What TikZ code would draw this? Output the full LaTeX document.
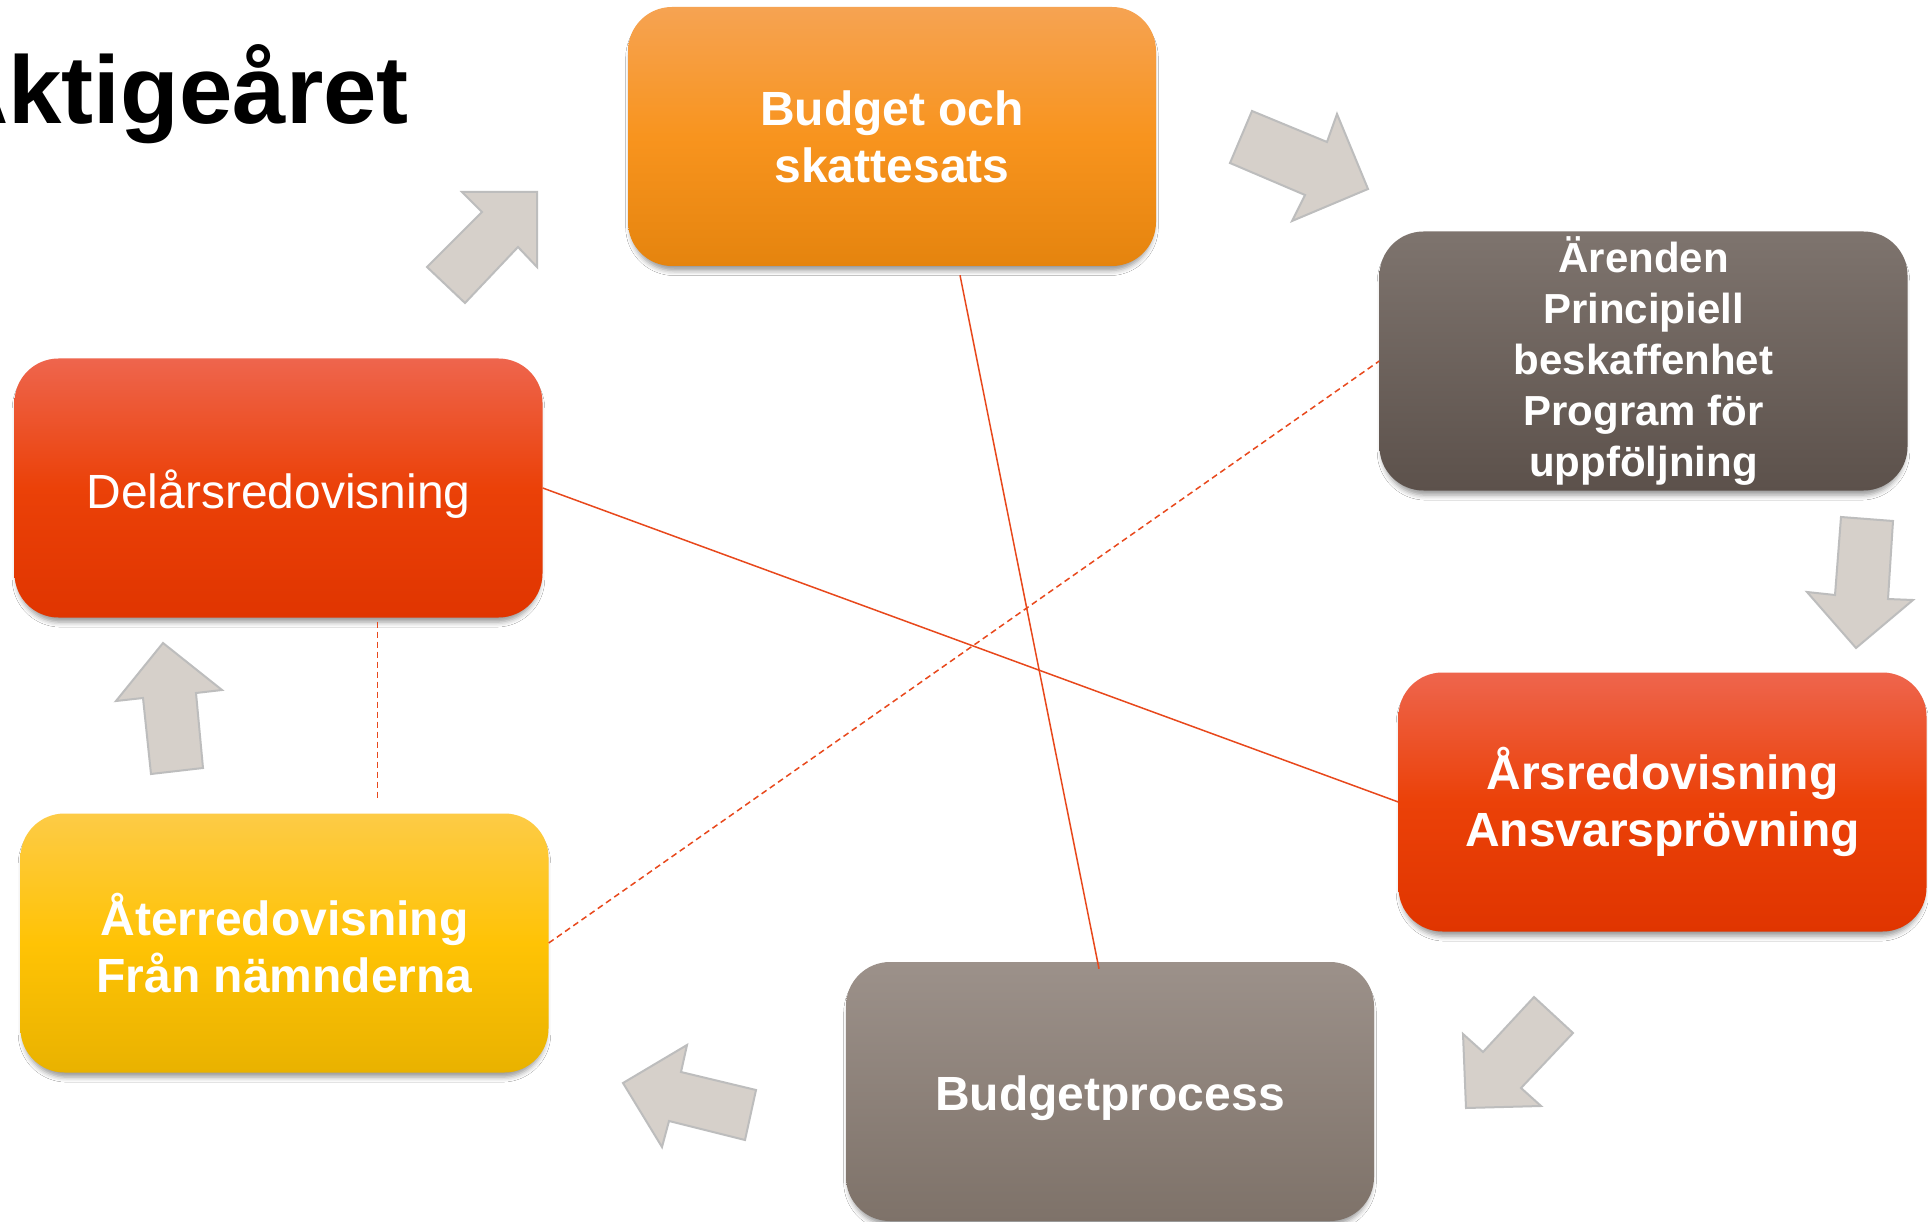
\documentclass[tikz,border=0pt]{standalone}
\usepackage{fontspec}
\setmainfont{Liberation Sans}
\usetikzlibrary{shadows.blur}
\definecolor{linec}{HTML}{E8481C}
\definecolor{arrfill}{HTML}{D6D0CA}
\definecolor{arrdraw}{HTML}{BDBDBD}
\tikzset{
  box/.style={rounded corners=44pt, minimum width=528pt, minimum height=259pt,
    inner sep=0pt, align=center, text=white,
    blur shadow={shadow xshift=0pt, shadow yshift=-6pt, shadow blur radius=5pt, shadow opacity=40, shadow scale=0.99}},
  orangebox/.style={box, top color=orA, bottom color=orC, middle color=orB},
  redbox/.style={box, top color=rdA, bottom color=rdC, middle color=rdB},
  yellowbox/.style={box, top color=ylA, bottom color=ylC, middle color=ylB},
  darkbox/.style={box, top color=dkA, bottom color=dkB},
  greybox/.style={box, top color=gyA, bottom color=gyB},
  bigtxt/.style={font=\fontsize{48}{57}\selectfont\bfseries},
  conn/.style={draw=linec, line width=1.5pt},
  dconn/.style={conn, dash pattern=on 6pt off 4pt},
  blockarrow/.style={fill=arrfill, draw=arrdraw, line width=2pt, line join=miter}
}
\definecolor{orA}{HTML}{F6A352}
\definecolor{orB}{HTML}{F8941E}
\definecolor{orC}{HTML}{E5840E}
\definecolor{rdA}{HTML}{EE654D}
\definecolor{rdB}{HTML}{EB4108}
\definecolor{rdC}{HTML}{E03500}
\definecolor{ylA}{HTML}{FDCB46}
\definecolor{ylB}{HTML}{FFC305}
\definecolor{ylC}{HTML}{E9B200}
\definecolor{dkA}{HTML}{7E746E}
\definecolor{dkB}{HTML}{5C514B}
\definecolor{gyA}{HTML}{9C918A}
\definecolor{gyB}{HTML}{7E7269}
\begin{document}
\begin{tikzpicture}[x=1pt,y=-1pt]
\useasboundingbox[fill=white] (0,0) rectangle (1928,1222);

% title
\node[anchor=base east, inner sep=0pt, font=\fontsize{96}{110}\selectfont\bfseries] (title) at (409,124) {Aktigeåret};

% block arrows
\draw[blockarrow] (427,267) -- (482,212) -- (462,192) -- (537,192) -- (537,267) -- (518,247) -- (465,303) -- cycle;
\draw[blockarrow] (1230,163) -- (1252,111) -- (1327,142) -- (1337,114) -- (1368,189) -- (1292,221) -- (1305,195) -- cycle;
\draw[blockarrow] (1841,517) -- (1893,521) -- (1888,599) -- (1913,600) -- (1856,648) -- (1807,592) -- (1835,595) -- cycle;
\draw[blockarrow] (1534,997) -- (1573,1033) -- (1521,1088) -- (1541,1106) -- (1466,1108) -- (1463,1034) -- (1483,1052) -- cycle;
\draw[blockarrow] (756,1090) -- (745,1140) -- (669,1121) -- (662,1147) -- (623,1083) -- (687,1045) -- (681,1072) -- cycle;
\draw[blockarrow] (163,643) -- (222,690) -- (196,693) -- (203,768) -- (151,774) -- (143,698) -- (116,701) -- cycle;

% boxes
\node[orangebox, bigtxt] (bud) at (892,136.5) {Budget och\\skattesats};
\node[darkbox, font=\fontsize{42}{51}\selectfont\bfseries] (are) at (1643.5,361) {Ärenden\\Principiell\\beskaffenhet\\Program för\\uppföljning};
\node[redbox, font=\fontsize{48}{57}\selectfont, text depth=0pt, text height=40pt] (del) at (278.5,488) {Delårsredovisning};
\node[redbox, bigtxt] (ars) at (1662.5,802) {Årsredovisning\\Ansvarsprövning};
\node[yellowbox, bigtxt] (ater) at (284.5,943) {Återredovisning\\Från nämnderna};
\node[greybox, bigtxt, text depth=0pt, text height=37pt] (bp) at (1110,1091.5) {Budgetprocess};

% connectors
\coordinate (b1) at ([xshift=68pt,yshift=-9pt]bud.south);
\coordinate (b2) at ([xshift=-11pt,yshift=-7pt]bp.north);
\draw[conn] (b1) -- (b2);
\draw[conn] (del.east) -- (ars.west);
\draw[dconn] (ater.east) -- (are.west);
\coordinate (d1) at ([xshift=99pt,yshift=-4pt]del.south);
\coordinate (d2) at ([xshift=93pt,yshift=15pt]ater.north);
\draw[dconn] (d1) -- (d2);
\end{tikzpicture}
\end{document}
